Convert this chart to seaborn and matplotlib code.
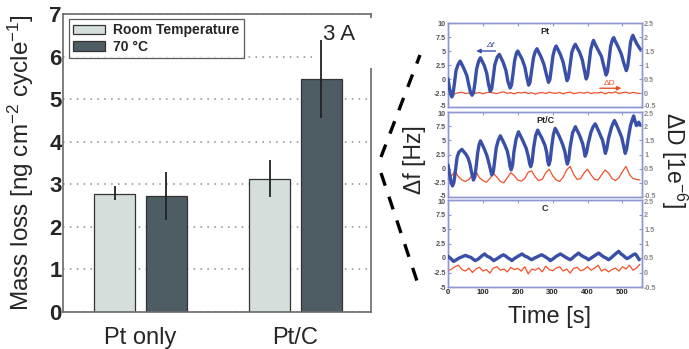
import numpy as np
import pandas as pd
import matplotlib
matplotlib.use("Agg")
import matplotlib.pyplot as plt
import matplotlib.transforms as mtrans
import seaborn as sns
from matplotlib.patches import Rectangle

# ---------------- bar chart data ----------------
catalysts = ["Pt only", "Pt/C"]
conditions = ["Room Temperature", "70 °C"]
mass_loss_rt = [2.77, 3.13]
mass_loss_70 = [2.73, 5.47]
err_rt_low = [2.62, 2.70]
err_rt_high = [2.95, 3.58]
err_70_low = [2.15, 4.55]
err_70_high = [3.30, 6.40]
bar_yticks = [0, 1, 2, 3, 4, 5, 6, 7]

# ---------------- QCM time series ----------------
t_pt = [0, 4, 8, 11, 14, 18, 23, 29, 35, 39, 46, 54, 60, 65, 69, 73, 77, 82, 88, 93, 97, 104,
        111, 116, 121, 125, 129, 134, 141, 147, 151, 158, 166, 172, 178, 182, 186, 191, 196,
        200, 204, 212, 220, 226, 231, 235, 239, 245, 250, 255, 259, 267, 275, 282, 288, 292,
        296, 301, 306, 310, 314, 322, 330, 336, 341, 345, 349, 355, 361, 365, 369, 377, 385,
        391, 396, 400, 404, 409, 414, 417, 421, 430, 440, 447, 453, 457, 461, 466, 471, 475,
        479, 488, 497, 504, 511, 515, 519, 523, 527, 530, 534, 541, 546, 551]
df_pt = [0.0, -1.6, -2.8, -3.2, -2.8, -1.0, 1.5, 2.6, 3.2, 2.7, 1.8, 0.6, -1.2, -2.5, -2.9,
         -2.5, -0.8, 1.8, 3.2, 3.8, 3.3, 2.4, 1.0, -0.9, -2.2, -1.8, 0.0, 2.5, 3.9, 4.4, 3.9,
         3.0, 1.5, -0.5, -1.6, -1.1, 0.8, 3.3, 4.6, 5.0, 4.5, 3.6, 2.2, 0.3, -1.1, -0.6, 1.2,
         3.8, 4.9, 5.4, 4.9, 3.9, 2.6, 0.8, -0.6, -0.1, 1.8, 4.2, 5.4, 5.9, 5.4, 4.4, 3.0, 1.2,
         -0.3, 0.2, 2.0, 4.8, 5.8, 6.2, 5.7, 4.8, 3.4, 1.5, 0.0, 0.6, 2.6, 5.2, 6.4, 6.9, 6.3,
         5.2, 4.0, 2.2, 0.7, 1.3, 3.2, 5.8, 7.0, 7.4, 6.8, 5.7, 4.4, 2.8, 1.5, 2.3, 4.2, 6.5,
         7.4, 7.8, 7.2, 6.3, 5.8, 5.3]

t_ptc = [0, 4, 9, 13, 17, 21, 26, 31, 36, 40, 45, 52, 58, 63, 68, 73, 77, 81, 85, 89, 93, 97,
         104, 112, 118, 123, 126, 130, 134, 138, 144, 150, 154, 162, 170, 175, 178, 181, 185,
         189, 195, 202, 206, 214, 224, 230, 234, 237, 241, 245, 251, 257, 261, 269, 278, 283,
         286, 289, 293, 297, 302, 307, 311, 319, 329, 335, 339, 342, 346, 350, 357, 365, 369,
         377, 386, 390, 393, 397, 402, 410, 416, 422, 426, 434, 443, 448, 451, 455, 460, 468,
         473, 477, 481, 489, 498, 504, 508, 512, 517, 523, 528, 532, 536, 540, 544, 547, 550]
df_ptc = [0.65, -0.8, -2.5, -3.05, -2.4, -0.5, 2.0, 2.9, 3.2, 3.4, 3.0, 2.5, 1.8, 0.8, -0.8,
          -2.0, -1.4, 0.5, 2.8, 4.2, 4.9, 4.4, 3.5, 2.2, 0.8, -0.5, -1.1, -0.5, 1.5, 3.6, 5.0,
          5.8, 5.3, 4.3, 3.1, 1.6, 0.3, -0.2, 0.6, 3.0, 5.2, 6.5, 6.0, 5.0, 3.6, 2.2, 0.9, 0.35,
          1.2, 3.5, 5.8, 6.8, 6.3, 5.4, 4.1, 2.8, 1.3, 0.65, 1.5, 3.8, 6.0, 7.1, 6.7, 5.7, 4.2,
          3.0, 1.6, 0.8, 1.6, 3.8, 6.3, 7.4, 6.9, 5.9, 4.4, 3.2, 2.2, 2.8, 4.5, 6.5, 7.4, 7.9,
          7.4, 6.3, 5.0, 3.6, 2.7, 3.5, 5.3, 7.2, 8.0, 8.5, 8.0, 6.9, 5.5, 3.8, 2.7, 3.5, 5.5,
          7.6, 8.6, 9.3, 8.4, 7.6, 7.9, 8.2, 7.7]

t_c = [0, 8, 16, 24, 32, 40, 50, 58, 66, 72, 78, 86, 94, 100, 105, 112, 120, 126, 131, 138,
       146, 152, 159, 166, 172, 178, 183, 190, 198, 205, 212, 220, 228, 234, 240, 248, 256,
       262, 269, 276, 284, 289, 293, 300, 308, 315, 322, 330, 338, 344, 350, 357, 364, 369,
       374, 381, 389, 396, 403, 410, 418, 425, 432, 439, 446, 453, 460, 467, 474, 482, 489,
       496, 503, 508, 513, 520, 527, 532, 537, 542, 548]
df_c = [0.3, -0.1, -0.6, -0.3, 0.0, 0.2, 0.45, 0.25, 0.1, -0.2, -0.45, -0.2, 0.2, 0.5, 0.7,
        0.3, 0.1, -0.2, -0.45, -0.2, 0.1, 0.35, 0.55, 0.3, 0.0, -0.2, -0.45, -0.1, 0.2, 0.45,
        0.7, 0.35, 0.15, -0.1, -0.3, 0.0, 0.2, 0.4, 0.55, 0.3, 0.0, -0.2, -0.45, -0.2, 0.2,
        0.45, 0.7, 0.4, 0.1, -0.1, -0.3, 0.0, 0.4, 0.6, 0.85, 0.5, 0.2, 0.0, -0.3, 0.0, 0.3,
        0.6, 0.85, 0.5, 0.2, 0.0, -0.3, 0.0, 0.4, 0.8, 1.15, 0.7, 0.4, 0.1, -0.1, 0.1, 0.4,
        0.6, 0.7, 0.3, -0.3]

t_dd = list(range(0, 560, 10))
dD_pt = [0.0, 0.02, -0.03, 0.01, 0.03, -0.02, 0.0, 0.04, -0.01, 0.02, -0.03, 0.01, 0.03, 0.0,
         -0.02, 0.02, 0.04, -0.01, 0.01, -0.03, 0.02, 0.0, 0.03, -0.02, 0.01, -0.04, 0.0, 0.02,
         -0.02, 0.03, 0.0, -0.01, 0.02, -0.03, 0.01, 0.03, -0.02, 0.0, 0.02, -0.01, 0.03, -0.02,
         0.01, 0.0, 0.03, -0.03, 0.02, 0.0, 0.04, -0.02, 0.01, 0.03, -0.01, 0.02, 0.0, -0.02]
dD_ptc = [0.15, 0.25, 0.40, 0.22, 0.10, 0.05, 0.12, 0.28, 0.40, 0.18, 0.08, 0.02, 0.15, 0.34,
          0.20, 0.05, 0.00, 0.18, 0.36, 0.25, 0.10, 0.06, 0.15, 0.38, 0.42, 0.20, 0.08, 0.12,
          0.35, 0.48, 0.25, 0.10, 0.05, 0.20, 0.45, 0.58, 0.30, 0.12, 0.15, 0.35, 0.48, 0.28,
          0.12, 0.10, 0.28, 0.45, 0.35, 0.15, 0.08, 0.18, 0.40, 0.58, 0.30, 0.15, 0.12, 0.10]
dD_c = [0.05, 0.12, 0.20, 0.25, 0.10, 0.05, 0.15, 0.0, 0.12, 0.18, 0.05, 0.10, -0.02, 0.15,
        0.20, 0.08, 0.12, 0.02, 0.18, 0.10, 0.14, 0.05, 0.20, -0.05, 0.12, 0.08, 0.16, 0.02,
        0.22, 0.10, 0.06, 0.15, 0.20, 0.05, 0.12, -0.02, 0.14, 0.18, 0.06, 0.10, 0.20, 0.08,
        0.15, 0.25, 0.05, 0.12, 0.02, 0.10, 0.15, 0.05, 0.20, 0.12, 0.25, 0.08, 0.15, 0.28]

panel_titles = ["Pt", "Pt/C", "C"]
f_ticks = [-5, -2.5, 0, 2.5, 5, 7.5, 10]
f_ticklabels = ["-5", "-2.5", "0", "2.5", "5", "7.5", "10"]
d_ticks = [-0.5, 0, 0.5, 1, 1.5, 2, 2.5]
d_ticklabels = ["-0.5", "0", "0.5", "1", "1.5", "2", "2.5"]
time_ticks = [0, 100, 200, 300, 400, 500]

# ---------------- style ----------------
sns.set_style("white")
plt.rcParams['font.family'] = ['Liberation Sans', 'DejaVu Sans']
plt.rcParams['mathtext.fontset'] = 'custom'
plt.rcParams['mathtext.rm'] = 'Liberation Sans'
plt.rcParams['mathtext.it'] = 'Liberation Sans:italic'
plt.rcParams['mathtext.bf'] = 'Liberation Sans:bold'

c_light = "#d3dfdc"
c_dark = "#4a5d66"
c_blue = "#3a4fa8"
c_red = "#f0502a"
c_spine = "#8c96d2"
c_tick = "#555555"

W, H = 689, 349
fig = plt.figure(figsize=(W / 100, H / 100), dpi=100)

def rect(x0, y0, x1, y1):
    return [x0 / W, 1 - y1 / H, (x1 - x0) / W, (y1 - y0) / H]

def shift(label, dy_pt):
    label.set_transform(label.get_transform() +
                        mtrans.ScaledTranslation(0, dy_pt / 72, fig.dpi_scale_trans))

# ---------------- bar chart ----------------
ax = fig.add_axes(rect(63, 14, 371, 312))
bar_df = pd.DataFrame({
    "catalyst": catalysts * 2,
    "condition": [conditions[0]] * 2 + [conditions[1]] * 2,
    "value": mass_loss_rt + mass_loss_70,
})
sns.barplot(data=bar_df, x="catalyst", y="value", hue="condition", order=catalysts,
            hue_order=conditions, palette=[c_light, c_dark], width=0.66, gap=0.2,
            edgecolor="#333333", linewidth=0.9, errorbar=None, ax=ax, zorder=2)
bar_containers = list(ax.containers)
for cont, vals, lo, hi in zip(bar_containers, [mass_loss_rt, mass_loss_70],
                              [err_rt_low, err_70_low], [err_rt_high, err_70_high]):
    xs = [b.get_x() + b.get_width() / 2 for b in cont]
    vals = np.array(vals)
    ax.errorbar(xs, vals, yerr=[vals - np.array(lo), np.array(hi) - vals], fmt='none',
                ecolor="#222222", elinewidth=1.3, capsize=0, zorder=5)

ax.set_xlim(-0.5, 1.487)
ax.set_ylim(0, 7)
ax.set_yticks(bar_yticks)
ax.set_yticklabels([str(v) for v in bar_yticks], fontsize=16, fontweight='bold')
ax.tick_params(axis='y', length=0, pad=1)
ax.tick_params(axis='x', length=0, pad=11, labelsize=17)
ax.set_xlabel("")
ax.set_ylabel("Mass loss [ng cm$^{-2}$ cycle$^{-1}$]", fontsize=17.5)
ax.yaxis.set_label_coords(-0.088, 0.5)
ax.set_axisbelow(True)
ax.yaxis.grid(True, linestyle=(0, (1, 3.5)), color="#8a8a8a", lw=1.1)
for s in ax.spines.values():
    s.set_color("#6a6a6a")
    s.set_linewidth(1.2)

handles, labels = ax.get_legend_handles_labels()
leg = ax.legend(handles, labels, loc='upper left', bbox_to_anchor=(0.0195, 0.983),
                borderaxespad=0, frameon=True, fancybox=False, edgecolor="#333333",
                prop={'weight': 'bold', 'size': 10}, handlelength=2.3, handleheight=0.7,
                handletextpad=0.6, labelspacing=0.2, borderpad=0.3)
leg.get_frame().set_linewidth(0.9)

ax.add_patch(Rectangle((0.812, 0.819), 0.195, 0.168, transform=ax.transAxes,
                       facecolor="white", edgecolor="none", zorder=2.7, clip_on=False))
ax.text(0.895, 0.93, "3 A", transform=ax.transAxes, fontsize=16, ha='center',
        va='center', zorder=3)

# ---------------- QCM panels ----------------
panel_px = [(23, 107), (112, 197), (200, 287)]
blue_data = [(t_pt, df_pt), (t_ptc, df_ptc), (t_c, df_c)]
red_data = [dD_pt, dD_ptc, dD_c]
for i in range(3):
    y0, y1 = panel_px[i]
    a = fig.add_axes(rect(448, y0, 642, y1))
    a2 = a.twinx()
    tb, vb = blue_data[i]
    sns.lineplot(x=tb, y=vb, ax=a, color=c_blue, lw=2.4, zorder=3)
    sns.lineplot(x=t_dd, y=red_data[i], ax=a2, color=c_red, lw=0.9, zorder=2)
    a.set_zorder(a2.get_zorder() + 1)
    a.patch.set_visible(False)
    a.set_xlim(0, 556)
    a.set_ylim(-5, 10)
    a2.set_ylim(-0.5, 2.5)
    a.set_yticks(f_ticks)
    a.set_yticklabels(f_ticklabels, fontsize=5.2, fontweight='bold', color=c_tick)
    a2.set_yticks(d_ticks)
    a2.set_yticklabels(d_ticklabels, fontsize=5.2, fontweight='bold', color="#888888")
    a.set_xticks(time_ticks)
    if i == 2:
        a.set_xticklabels([str(v) for v in time_ticks], fontsize=5.5, fontweight='bold',
                          color="#222222")
    else:
        a.set_xticklabels([])
    a.tick_params(axis='both', direction='in', length=2.5, width=0.8, color=c_spine,
                  pad=1.5, top=True)
    a2.tick_params(axis='y', direction='in', length=2.5, width=0.8, color=c_spine, pad=1.5)
    for axis_obj in (a, a2):
        lbls = axis_obj.get_yticklabels()
        if i > 0:
            shift(lbls[-1], -1.3)
        if i < 2:
            shift(lbls[0], 1.3)
    for ss in (a, a2):
        for s in ss.spines.values():
            s.set_color(c_spine)
            s.set_linewidth(1.0)
        ss.set_xlabel("")
        ss.set_ylabel("")
    a.text(0.5, 0.95, panel_titles[i], transform=a.transAxes, ha='center', va='top',
           fontsize=6.5, fontweight='bold')
    if i == 0:
        a.annotate("", xy=(73, 5.0), xytext=(144, 5.0),
                   arrowprops=dict(arrowstyle='-|>', color=c_blue, lw=1.0,
                                   mutation_scale=6))
        a.text(108, 5.3, "Δf", color=c_blue, fontsize=6, style='italic', va='bottom')
        a.annotate("", xy=(505, -1.65), xytext=(427, -1.65),
                   arrowprops=dict(arrowstyle='-|>', color=c_red, lw=1.0,
                                   mutation_scale=6))
        a.text(447, -1.35, "ΔD", color=c_red, fontsize=6, va='bottom')

fig.text(414 / W, 1 - 160 / H, "Δf [Hz]", rotation=90, fontsize=16.5, ha='center',
         va='center')
fig.text(674 / W, 1 - 160 / H, "ΔD [1e$^{-6}$]", rotation=270, fontsize=16.5,
         ha='center', va='center')
fig.text(550 / W, 1 - 317 / H, "Time [s]", fontsize=17, ha='center', va='center')

# dashed connector lines on a transparent overlay (pixel coordinates)
ov = fig.add_axes([0, 0, 1, 1])
ov.set_xlim(0, W)
ov.set_ylim(H, 0)
ov.axis('off')
ov.set_zorder(50)
ov.plot([381, 420], [157, 55], color='black', lw=2.4, linestyle=(0, (4, 3.5)),
        solid_capstyle='butt', dash_capstyle='butt')
ov.plot([381, 418], [173, 284], color='black', lw=2.4, linestyle=(0, (4, 3.5)),
        solid_capstyle='butt', dash_capstyle='butt')

fig.savefig("out.png", dpi=100)
